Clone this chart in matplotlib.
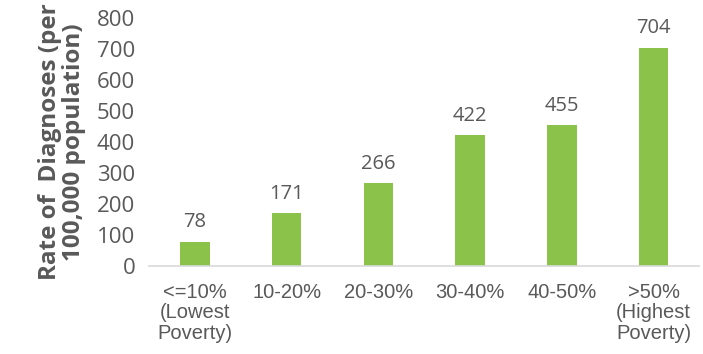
import matplotlib.pyplot as plt

categories = ['<=10%\n(Lowest\nPoverty)', '10-20%', '20-30%', '30-40%', '40-50%', '>50%\n(Highest\nPoverty)']
rates = [78, 171, 266, 422, 455, 704]

TEXT = '#595959'
GREEN = '#8bc34a'

fig = plt.figure(figsize=(7.03, 3.54), dpi=100)
ax = fig.add_axes([0.212, 0.249, 0.783, 0.70])

x = range(len(categories))
bars = ax.bar(x, rates, width=0.32, color=GREEN, zorder=2)

for xi, v in zip(x, rates):
    ax.text(xi, v + 30, str(v), ha='center', va='bottom', fontsize=14.5,
            color=TEXT, family='Open Sans')

ax.set_xlim(-0.5, len(categories) - 0.5)
ax.set_ylim(0, 800)
ax.set_yticks(range(0, 801, 100))
ax.set_xticks(list(x))
ax.set_xticklabels(categories, fontsize=14.5, color=TEXT, family='Liberation Sans',
                   linespacing=1.12, va='top')
ax.tick_params(axis='y', labelsize=16, colors=TEXT, length=0, pad=10)
ax.tick_params(axis='x', length=0, pad=12)
for lbl in ax.get_yticklabels():
    lbl.set_family('Open Sans')

for s in ['top', 'right', 'left']:
    ax.spines[s].set_visible(False)
ax.spines['bottom'].set_color('#d9d9d9')
ax.spines['bottom'].set_linewidth(1.2)

ax.set_ylabel('Rate of  Diagnoses (per\n100,000 population)', fontsize=17.5,
              fontweight='bold', color=TEXT, family='Open Sans', linespacing=1.0,
              labelpad=8)

plt.savefig('out.png', dpi=100)
